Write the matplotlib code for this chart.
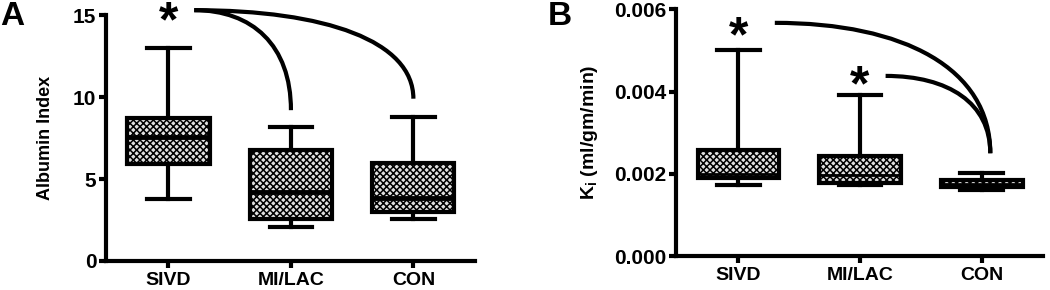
import matplotlib
matplotlib.use("Agg")
import matplotlib.pyplot as plt
from matplotlib.path import Path
from matplotlib.patches import PathPatch

plt.rcParams['font.family'] = ['Liberation Sans', 'DejaVu Sans']
plt.rcParams['font.weight'] = 'bold'
plt.rcParams['mathtext.fontset'] = 'custom'
plt.rcParams['mathtext.rm'] = 'Liberation Sans:bold'
plt.rcParams['mathtext.it'] = 'Liberation Sans:bold'
plt.rcParams['hatch.linewidth'] = 1.1

groups = ['SIVD', 'MI/LAC', 'CON']

# panel A: albumin index (min, q1, median, q3, max)
alb_min = [3.8, 2.05, 2.55]
alb_q1 = [5.9, 2.55, 3.0]
alb_med = [7.55, 4.2, 3.85]
alb_q3 = [8.75, 6.8, 5.95]
alb_max = [13.0, 8.2, 8.8]

# panel B: Ki (ml/gm/min)
ki_min = [0.00172, 0.00172, 0.00161]
ki_q1 = [0.00191, 0.00178, 0.00169]
ki_med = [0.00200, 0.00198, 0.00176]
ki_q3 = [0.00258, 0.00243, 0.00185]
ki_max = [0.00501, 0.00392, 0.00203]

LW = 3.0


def make_stats(lo, q1, med, q3, hi):
    return [dict(whislo=a, q1=b, med=c, q3=d, whishi=e, fliers=[], label=g)
            for a, b, c, d, e, g in zip(lo, q1, med, q3, hi, groups)]


def draw_panel(ax, stats, ylim, yticks, ylabel, ylabel_size, labelpad, med_lw):
    bp = ax.bxp(stats, positions=range(len(groups)), widths=0.67,
                patch_artist=True, showfliers=False,
                boxprops=dict(linewidth=LW, edgecolor='black',
                              facecolor='#e0e0e0', hatch='xxxxx'),
                whiskerprops=dict(linewidth=LW, color='black'),
                capprops=dict(linewidth=LW, color='black'),
                medianprops=dict(linewidth=med_lw, color='black', zorder=4,
                                 solid_capstyle='butt'),
                capwidths=0.35)
    for b in bp['boxes']:
        b.set_edgecolor('black')
    ax.set_xlim(-0.51, 2.5)
    ax.set_ylim(*ylim)
    ax.set_yticks(yticks)
    for s in ['top', 'right']:
        ax.spines[s].set_visible(False)
    for s in ['left', 'bottom']:
        ax.spines[s].set_linewidth(LW)
    ax.tick_params(axis='y', width=LW, length=5, labelsize=15, pad=2)
    ax.tick_params(axis='x', width=LW, length=5, labelsize=14, pad=3)
    ax.set_ylabel(ylabel, fontsize=ylabel_size, fontweight='bold', labelpad=labelpad)
    for lab in ax.get_xticklabels() + ax.get_yticklabels():
        lab.set_fontweight('bold')


def bracket(ax, x0, y0, x1, y1):
    dx = x1 - x0
    dy = y0 - y1
    verts = [(x0, y0), (x0 + 0.6 * dx, y0), (x1, y0 - 0.35 * dy), (x1, y1)]
    codes = [Path.MOVETO, Path.CURVE4, Path.CURVE4, Path.CURVE4]
    ax.add_patch(PathPatch(Path(verts, codes), fill=False, lw=LW,
                           edgecolor='black', clip_on=False))


fig = plt.figure(figsize=(10.5, 2.9), dpi=100)
axA = fig.add_axes([0.101, 0.100, 0.351, 0.848])
axB = fig.add_axes([0.644, 0.117, 0.349, 0.851])

draw_panel(axA, make_stats(alb_min, alb_q1, alb_med, alb_q3, alb_max),
           (0, 15), [0, 5, 10, 15], 'Albumin Index', 13, 14, 3.5)
draw_panel(axB, make_stats(ki_min, ki_q1, ki_med, ki_q3, ki_max),
           (0, 0.006), [0, 0.002, 0.004, 0.006], r'K$_{\mathrm{i}}$ (ml/gm/min)', 14, 10, 2.0)
axB.set_yticklabels(['0.000', '0.002', '0.004', '0.006'])

# significance marks
axA.text(0.0, 14.5, '*', fontsize=36, fontweight='bold', ha='center', va='center', clip_on=False)
bracket(axA, 0.21, 15.3, 1.0, 9.2)
bracket(axA, 0.21, 15.3, 2.0, 9.9)

axB.text(0.0, 0.0053, '*', fontsize=36, fontweight='bold', ha='center', va='center')
axB.text(1.0, 0.0041, '*', fontsize=36, fontweight='bold', ha='center', va='center')
bracket(axB, 0.30, 0.00567, 2.07, 0.0025)
bracket(axB, 1.21, 0.00438, 2.07, 0.0025)

fig.text(0.0, 0.915, 'A', fontsize=24, fontweight='bold')
fig.text(0.522, 0.915, 'B', fontsize=24, fontweight='bold')

fig.savefig('out.png', dpi=100)
